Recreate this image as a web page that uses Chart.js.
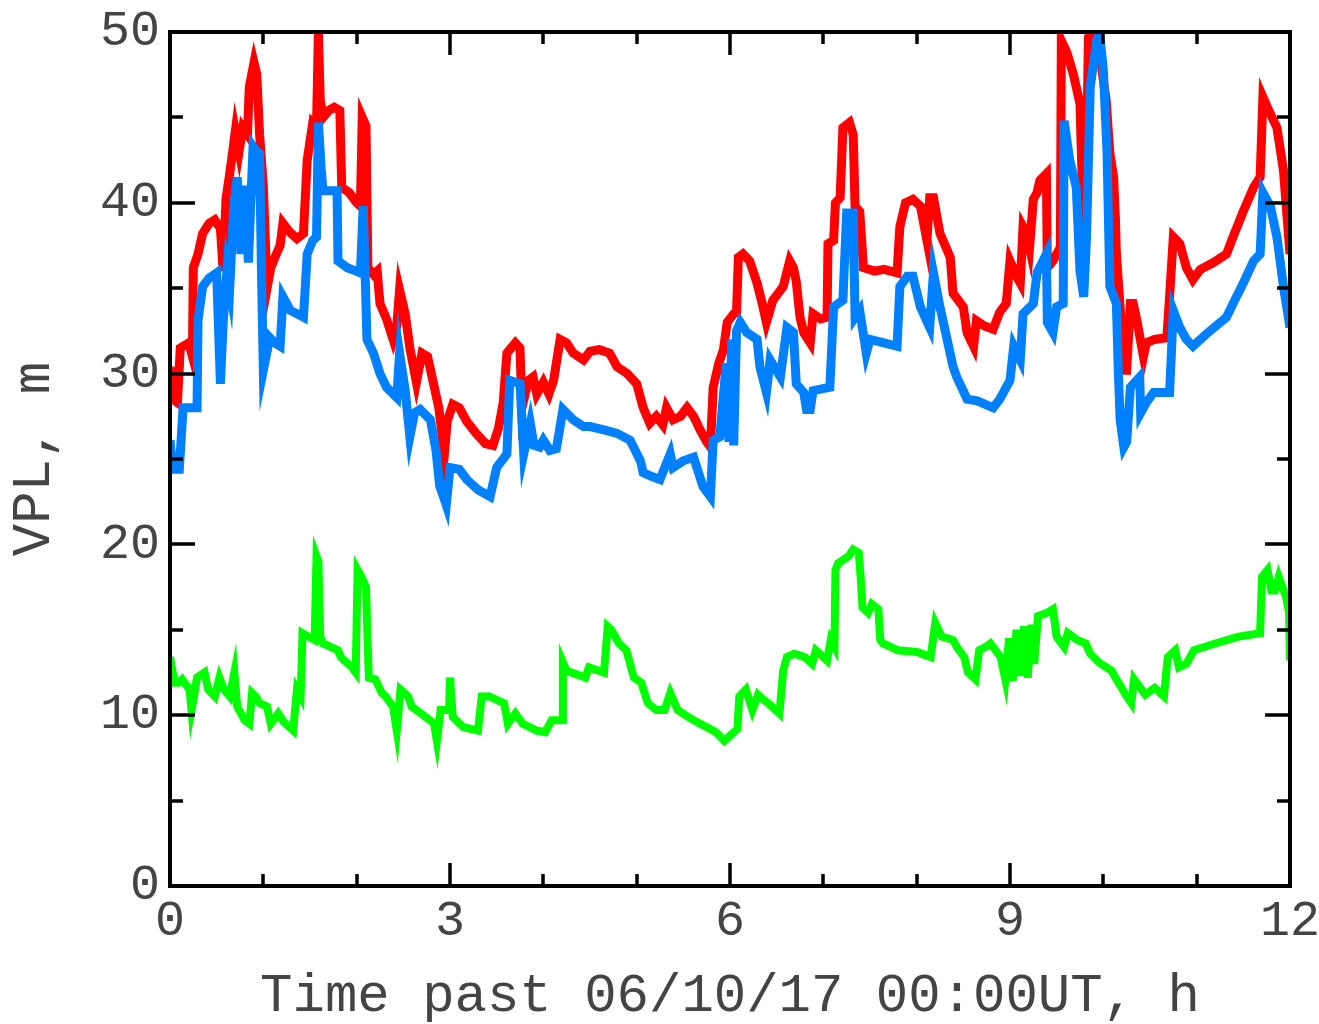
<!DOCTYPE html>
<html lang="en">
<head>
    <meta charset="UTF-8">
    <title>VPL</title>
    <style>
        html, body { margin: 0; padding: 0; background: #fff; }
        #wrap { width: 1319px; height: 1024px; }
    </style>
    <script src="https://cdn.jsdelivr.net/npm/chart.js"></script>
</head>
<body>
    <div id="wrap"><canvas id="vpl" width="1319" height="1024"></canvas></div>
    <script>
        // hours past 06/10/17 00:00UT and VPL values (m)
        const timeRed = [0.00,0.03,0.08,0.11,0.20,0.24,0.25,0.30,0.35,0.42,0.48,0.54,0.57,0.60,0.66,0.70,0.74,0.78,0.83,0.85,0.90,0.93,0.96,1.00,1.04,1.08,1.14,1.18,1.21,1.28,1.36,1.43,1.47,1.53,1.57,1.59,1.61,1.64,1.70,1.76,1.82,1.84,1.92,2.00,2.04,2.06,2.10,2.12,2.18,2.22,2.25,2.32,2.39,2.43,2.46,2.52,2.57,2.64,2.70,2.76,2.82,2.88,2.94,2.97,3.03,3.10,3.18,3.28,3.38,3.46,3.52,3.57,3.61,3.70,3.75,3.77,3.84,3.89,3.93,4.00,4.06,4.11,4.18,4.25,4.32,4.43,4.50,4.60,4.71,4.79,4.90,5.00,5.07,5.14,5.21,5.28,5.32,5.39,5.47,5.54,5.61,5.68,5.75,5.79,5.82,5.88,5.93,5.97,6.04,6.07,6.09,6.14,6.21,6.29,6.35,6.39,6.46,6.53,6.57,6.64,6.68,6.71,6.75,6.79,6.86,6.89,6.97,7.04,7.05,7.11,7.13,7.18,7.21,7.28,7.32,7.34,7.39,7.43,7.55,7.65,7.79,7.82,7.88,7.96,8.04,8.11,8.14,8.18,8.25,8.36,8.39,8.50,8.54,8.61,8.64,8.72,8.82,8.89,8.96,9.00,9.08,9.11,9.14,9.18,9.21,9.25,9.29,9.32,9.39,9.40,9.46,9.54,9.55,9.61,9.68,9.75,9.79,9.82,9.84,9.90,9.93,9.96,10.03,10.07,10.11,10.13,10.14,10.19,10.21,10.25,10.29,10.32,10.36,10.43,10.46,10.55,10.68,10.71,10.75,10.82,10.89,10.96,11.04,11.18,11.32,11.39,11.50,11.61,11.68,11.71,11.79,11.86,11.93,12.00];
        const vplRed = [30.4,28.5,28.3,31.5,31.8,31.0,36.2,37.0,38.2,38.8,39.0,38.5,36.0,40.2,42.5,44.2,43.0,44.4,44.0,46.8,48.2,47.5,44.0,41.0,35.0,36.2,37.0,37.5,38.8,38.3,37.9,38.2,42.5,44.7,44.5,50.0,46.0,45.0,45.4,45.6,45.4,40.9,40.6,40.0,39.8,45.0,44.5,36.2,35.8,36.0,34.1,33.2,32.0,32.8,34.9,33.5,31.5,29.5,31.2,31.0,29.5,28.0,25.3,27.2,28.2,28.0,27.2,26.5,25.9,25.8,26.8,28.3,31.2,31.8,31.5,28.0,29.6,29.8,28.8,29.5,28.8,29.6,32.0,31.8,31.2,30.8,31.3,31.4,31.2,30.4,30.0,29.4,28.0,27.1,27.5,27.0,28.0,27.3,27.5,28.0,27.5,26.7,26.0,25.7,29.2,30.6,31.4,33.0,33.5,33.6,36.8,37.0,36.6,35.3,34.0,33.0,34.3,34.8,35.1,36.6,36.2,35.4,33.3,32.4,31.8,33.5,33.2,33.3,37.6,37.8,40.0,40.3,44.4,44.7,44.0,39.8,39.5,36.2,36.0,36.1,35.9,38.6,40.0,40.2,39.8,37.8,40.3,40.3,38.2,36.8,34.7,33.9,32.4,31.6,33.1,32.8,32.6,33.6,34.1,36.6,35.6,35.3,38.6,38.2,37.4,40.2,40.6,41.3,41.7,36.2,36.6,37.4,49.5,48.8,47.5,45.8,38.0,42.0,49.7,50.3,50.3,48.8,46.0,42.9,41.5,39.0,37.0,33.1,30.2,30.2,34.1,34.1,33.1,31.0,31.8,32.0,32.1,34.5,38.0,37.6,36.2,35.5,36.1,36.5,37.0,38.0,39.5,40.9,41.5,46.2,45.2,44.4,41.9,37.0];

        const timeBlue = [0.00,0.03,0.10,0.14,0.22,0.29,0.30,0.35,0.42,0.50,0.54,0.57,0.61,0.64,0.68,0.72,0.76,0.80,0.84,0.89,0.93,0.96,0.98,1.00,1.07,1.12,1.18,1.21,1.29,1.36,1.43,1.47,1.53,1.57,1.59,1.62,1.64,1.72,1.79,1.80,1.90,2.04,2.07,2.09,2.11,2.18,2.25,2.32,2.43,2.46,2.52,2.57,2.62,2.68,2.79,2.85,2.89,2.93,2.96,3.00,3.10,3.18,3.30,3.43,3.50,3.61,3.64,3.75,3.79,3.86,3.90,3.96,4.00,4.07,4.14,4.21,4.32,4.43,4.50,4.65,4.79,4.93,5.04,5.07,5.15,5.25,5.36,5.39,5.50,5.61,5.71,5.79,5.82,5.89,5.96,5.99,6.02,6.04,6.07,6.11,6.18,6.29,6.32,6.39,6.43,6.54,6.61,6.68,6.71,6.79,6.82,6.86,6.89,7.07,7.11,7.21,7.25,7.32,7.34,7.39,7.46,7.50,7.65,7.79,7.82,7.90,7.96,8.04,8.14,8.18,8.25,8.39,8.43,8.54,8.65,8.82,8.89,9.00,9.04,9.11,9.14,9.25,9.29,9.39,9.40,9.46,9.50,9.57,9.58,9.64,9.71,9.75,9.79,9.82,9.86,9.93,9.96,10.00,10.04,10.07,10.14,10.16,10.18,10.22,10.25,10.29,10.39,10.40,10.46,10.54,10.71,10.75,10.82,10.89,10.96,11.10,11.32,11.39,11.50,11.61,11.68,11.71,11.79,11.86,11.93,12.00];
        const vplBlue = [26.1,24.4,24.4,28.0,28.0,28.0,33.1,35.1,35.6,35.9,29.4,33.0,36.0,35.0,39.5,41.5,37.0,41.0,36.5,43.3,43.0,42.9,36.0,30.2,32.1,31.8,31.6,34.5,33.7,33.5,33.3,37.0,37.8,38.0,44.7,42.0,40.7,40.7,40.7,36.6,36.2,35.9,39.8,36.0,32.0,31.2,30.0,29.2,28.6,31.2,29.0,26.3,27.7,27.9,27.3,25.5,23.4,22.8,22.3,24.5,24.4,23.8,23.2,22.8,24.5,25.3,29.6,29.4,25.3,27.1,25.8,25.7,26.1,25.5,25.6,27.9,27.3,26.9,26.9,26.7,26.5,26.1,24.9,24.2,24.0,23.8,25.3,24.5,24.9,25.1,23.4,22.8,26.1,26.3,30.6,26.0,32.0,25.8,32.5,33.0,32.4,32.0,30.4,28.9,30.8,29.8,32.7,32.4,29.4,28.9,27.9,27.9,29.0,29.2,33.9,34.3,39.4,39.4,33.3,33.7,31.2,32.0,31.8,31.6,35.1,35.7,35.7,33.9,32.7,35.9,33.9,30.4,29.8,28.5,28.4,28.0,28.5,29.6,31.6,30.8,33.5,34.1,35.9,37.0,33.0,32.4,33.9,34.1,44.8,42.5,40.9,36.0,34.5,38.0,46.8,49.5,49.9,47.8,42.9,35.1,34.1,30.2,27.3,25.7,26.0,29.2,29.8,27.7,28.3,28.9,28.9,33.7,32.7,32.0,31.6,32.3,33.3,34.1,35.3,36.6,37.0,40.6,39.8,38.0,35.1,32.7];

        const timeGreen = [0.00,0.05,0.09,0.13,0.21,0.23,0.26,0.29,0.37,0.41,0.48,0.53,0.58,0.64,0.69,0.72,0.80,0.85,0.88,0.92,0.96,1.04,1.08,1.16,1.22,1.28,1.32,1.36,1.40,1.42,1.48,1.55,1.57,1.59,1.61,1.64,1.72,1.80,1.83,1.95,1.99,2.01,2.06,2.10,2.13,2.20,2.27,2.31,2.39,2.43,2.47,2.55,2.59,2.74,2.83,2.86,2.90,2.99,3.00,3.03,3.14,3.30,3.34,3.42,3.58,3.62,3.70,3.78,3.93,4.02,4.09,4.20,4.21,4.25,4.45,4.49,4.65,4.69,4.73,4.81,4.89,4.97,5.05,5.12,5.21,5.30,5.36,5.44,5.55,5.68,5.75,5.85,5.94,6.00,6.08,6.10,6.17,6.24,6.30,6.36,6.41,6.53,6.57,6.61,6.69,6.80,6.88,6.92,7.04,7.08,7.12,7.13,7.16,7.27,7.32,7.38,7.40,7.42,7.48,7.52,7.59,7.61,7.64,7.80,8.00,8.15,8.20,8.27,8.39,8.43,8.51,8.55,8.63,8.67,8.74,8.79,8.90,8.95,8.99,9.03,9.07,9.11,9.15,9.19,9.23,9.26,9.30,9.40,9.46,9.50,9.58,9.62,9.72,9.81,9.86,9.95,10.09,10.14,10.25,10.30,10.33,10.45,10.55,10.65,10.69,10.77,10.81,10.89,10.97,11.20,11.45,11.68,11.70,11.76,11.80,11.84,11.88,11.96,11.99,12.00];
        const vplGreen = [13.4,11.9,11.9,12.1,11.5,10.3,11.2,12.2,12.5,11.5,11.1,12.2,11.5,11.1,12.5,10.5,9.7,9.5,11.3,11.1,10.7,10.5,9.5,10.1,9.6,9.3,9.1,11.5,11.1,14.8,14.6,14.4,19.3,19.0,14.6,14.2,14.0,13.8,13.4,12.8,12.5,18.5,18.0,17.5,12.2,12.1,11.3,11.1,10.5,9.1,11.5,11.1,10.5,9.9,9.5,8.5,10.3,10.3,12.2,9.9,9.3,9.1,11.1,11.1,10.7,9.5,10.1,9.5,9.1,9.0,9.7,9.7,13.1,12.6,12.2,12.8,12.5,15.2,15.0,14.2,13.8,12.2,11.9,10.7,10.3,10.3,11.3,10.3,9.9,9.5,9.3,9.0,8.5,8.8,9.2,11.1,11.5,10.3,11.2,10.9,10.7,10.1,12.6,13.4,13.6,13.4,13.0,13.8,13.2,14.4,14.0,18.5,18.9,19.3,19.7,19.5,18.1,16.3,16.0,16.5,16.2,14.4,14.2,13.8,13.7,13.4,15.4,14.6,14.4,14.0,13.4,12.5,12.1,13.8,14.0,14.2,13.4,12.1,14.5,12.0,15.0,12.3,15.2,12.2,15.3,13.0,15.8,16.0,16.2,14.6,14.0,14.8,14.4,14.2,13.6,13.1,12.6,12.1,11.1,10.7,12.1,11.2,11.6,11.1,13.4,13.8,12.8,13.0,13.8,14.2,14.6,14.8,18.1,18.5,17.3,17.3,18.1,16.9,16.0,13.2];

        const xTickLabels = [0, 3, 6, 9, 12];
        const yTickLabels = [0, 10, 20, 30, 40, 50];

        const tickFont = { family: "'Courier New', 'Liberation Mono', monospace", size: 50 };
        const titleFont = { family: "'Courier New', 'Liberation Mono', monospace", size: 54, lineHeight: 1 };

        function pontos(ts, vs) {
            return ts.map((t, i) => ({ x: t, y: vs[i] }));
        }

        // moldura com marcas para dentro nos quatro lados
        const moldura = {
            id: 'moldura',
            afterDraw(chart) {
                const { ctx, chartArea: a } = chart;
                const sx = chart.scales.x, sy = chart.scales.y;
                ctx.save();
                ctx.strokeStyle = '#000';
                ctx.lineCap = 'butt';
                ctx.lineWidth = 3.5;
                sx.ticks.forEach(t => {
                    const px = Math.round(sx.getPixelForValue(t.value));
                    const len = xTickLabels.includes(t.value) ? 23 : 12;
                    ctx.beginPath();
                    ctx.moveTo(px, a.bottom); ctx.lineTo(px, a.bottom - len);
                    ctx.moveTo(px, a.top); ctx.lineTo(px, a.top + len);
                    ctx.stroke();
                });
                sy.ticks.forEach(t => {
                    const py = Math.round(sy.getPixelForValue(t.value));
                    const len = yTickLabels.includes(t.value) ? 25 : 13;
                    ctx.beginPath();
                    ctx.moveTo(a.left, py); ctx.lineTo(a.left + len, py);
                    ctx.moveTo(a.right, py); ctx.lineTo(a.right - len, py);
                    ctx.stroke();
                });
                ctx.lineWidth = 4;
                ctx.strokeRect(a.left, a.top, a.right - a.left, a.bottom - a.top);
                ctx.restore();
            }
        };

        new Chart(document.getElementById('vpl'), {
            type: 'line',
            data: {
                datasets: [
                    { label: 'green', data: pontos(timeGreen, vplGreen), borderColor: '#00ff00', borderWidth: 8, order: 0 },
                    { label: 'blue', data: pontos(timeBlue, vplBlue), borderColor: '#0080ff', borderWidth: 9, order: 1 },
                    { label: 'red', data: pontos(timeRed, vplRed), borderColor: '#ff0000', borderWidth: 9, order: 2 }
                ]
            },
            options: {
                responsive: false,
                animation: false,
                events: [],
                elements: { point: { radius: 0 }, line: { tension: 0, fill: false } },
                layout: { padding: { left: 0, top: 32, right: 29, bottom: 0 } },
                plugins: { legend: { display: false }, tooltip: { enabled: false } },
                scales: {
                    x: {
                        type: 'linear', min: 0, max: 12,
                        grid: { display: false, drawTicks: false },
                        border: { display: false },
                        ticks: {
                            stepSize: 1, autoSkip: false, maxRotation: 0, padding: 6,
                            color: '#444', font: tickFont,
                            callback: v => xTickLabels.includes(v) ? String(v) : ''
                        },
                        title: { display: true, text: 'Time past 06/10/17 00:00UT, h', color: '#444', font: titleFont, padding: 0 },
                        afterFit(scale) {
                            scale.height = 138;
                            scale.paddingLeft = 0;
                            scale.paddingRight = 0;
                        }
                    },
                    y: {
                        type: 'linear', min: 0, max: 50,
                        grid: { display: false, drawTicks: false },
                        border: { display: false },
                        ticks: {
                            stepSize: 5, autoSkip: false, padding: 10,
                            color: '#444', font: tickFont,
                            callback: v => yTickLabels.includes(v) ? String(v) : ''
                        },
                        title: { display: true, text: 'VPL, m', color: '#444', font: titleFont, padding: { top: 8, bottom: 0 } },
                        afterFit(scale) {
                            scale.width = 170;
                            scale.paddingTop = 0;
                            scale.paddingBottom = 0;
                        }
                    }
                }
            },
            plugins: [moldura]
        });
    </script>
</body>
</html>
